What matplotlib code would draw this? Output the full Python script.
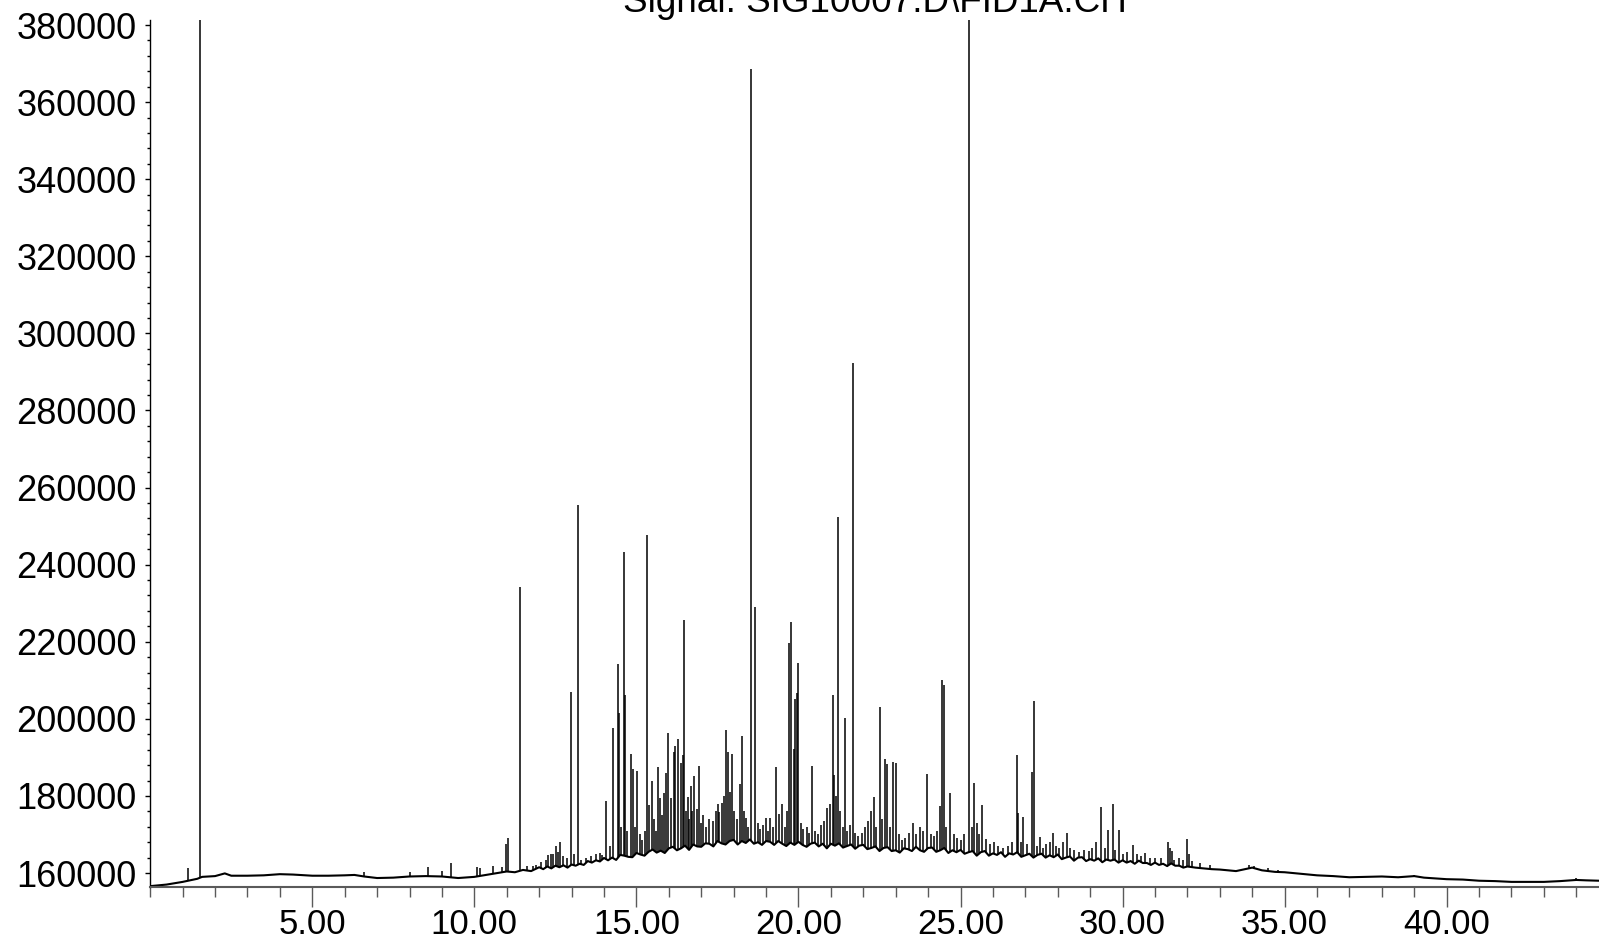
import numpy as np
import matplotlib
matplotlib.use("Agg")
import matplotlib.pyplot as plt
from matplotlib.ticker import MultipleLocator, FuncFormatter

plt.rcParams['font.family'] = ['Liberation Sans', 'DejaVu Sans']

title_text = "Signal: SIG10007.D\\FID1A.CH"

# Baseline (retention time in min, detector response)
baseline_rt = [0.0, 0.5, 1.0, 1.45, 1.6, 2.0, 2.3, 2.5, 3.0, 3.5, 4.0, 4.4, 5.0, 5.5,
               6.0, 6.3, 6.6, 7.0, 7.5, 8.0, 8.5, 9.0, 9.5, 10.0, 10.5, 11.0, 11.25, 11.5,
               11.75,
               12.0, 12.125, 12.25, 12.375, 12.5, 12.625, 12.75, 12.875,
               13.0, 13.125, 13.25, 13.375, 13.5, 13.625, 13.75, 13.875,
               14.0, 14.125, 14.25, 14.375, 14.5, 14.625, 14.75, 14.875,
               15.0, 15.125, 15.25, 15.375, 15.5, 15.625, 15.75, 15.875,
               16.0, 16.125, 16.25, 16.375, 16.5, 16.625, 16.75, 16.875,
               17.0, 17.125, 17.25, 17.375, 17.5, 17.625, 17.75, 17.875,
               18.0, 18.125, 18.25, 18.375, 18.5, 18.625, 18.75, 18.875,
               19.0, 19.125, 19.25, 19.375, 19.5, 19.625, 19.75, 19.875,
               20.0, 20.125, 20.25, 20.375, 20.5, 20.625, 20.75, 20.875,
               21.0, 21.125, 21.25, 21.375, 21.5, 21.625, 21.75, 21.875,
               22.0, 22.125, 22.25, 22.375, 22.5, 22.625, 22.75, 22.875,
               23.0, 23.125, 23.25, 23.375, 23.5, 23.625, 23.75, 23.875,
               24.0, 24.125, 24.25, 24.375, 24.5, 24.625, 24.75, 24.875,
               25.0, 25.125, 25.25, 25.375, 25.5, 25.625, 25.75, 25.875,
               26.0, 26.125, 26.25, 26.375, 26.5, 26.625, 26.75, 26.875,
               27.0, 27.125, 27.25, 27.375, 27.5, 27.625, 27.75, 27.875,
               28.0, 28.125, 28.25, 28.375, 28.5, 28.625, 28.75, 28.875,
               29.0, 29.125, 29.25, 29.375, 29.5, 29.625, 29.75, 29.875,
               30.0, 30.125, 30.25, 30.375, 30.5, 30.625, 30.75, 30.875,
               31.0, 31.125, 31.25, 31.375, 31.5, 31.625, 31.75, 31.875,
               32.0, 32.25, 32.5, 32.75, 33.0, 33.5, 34.0, 34.3,
               34.7, 35.0, 35.5, 36.0, 36.5, 37.0, 37.5, 38.0, 38.5, 39.0, 39.3, 40.0,
               40.5, 41.0, 41.5, 42.0, 42.5, 43.0, 43.5, 44.0, 44.3, 44.7]
baseline_val = [156600, 157000, 157700, 158500, 159000, 159200, 159900, 159300, 159300,
                159400, 159700, 159600, 159300, 159300, 159400, 159500, 159100, 158700,
                158800, 159100, 159200, 159100, 158700, 159000, 159700, 160400, 160200,
                160800, 160500,
                161500, 161000, 161700, 161200, 161900, 161500, 162000, 161400,
                162200, 161900, 162400, 162100, 163100, 162700, 163300, 163000,
                163900, 163300, 164000, 163400, 164700, 164500, 164200, 164100,
                165200, 164800, 164500, 165500, 166100, 165300, 165800, 165200,
                166400, 166800, 165900, 166400, 167100, 166000, 167400, 166900,
                166800, 167700, 167600, 166900, 168300, 167700, 167400, 168300,
                168600, 167400, 168300, 167800, 168700, 167600, 168000, 167300,
                168300, 168100, 167300, 168300, 167600, 167000, 167900, 167300,
                168100, 167300, 166800, 167600, 167900, 166900, 167600, 166400,
                167600, 167100, 167700, 166600, 167000, 167400, 166300, 167100,
                167300, 166200, 166500, 166900, 165700, 166500, 166700, 165700,
                165900, 165300, 166400, 166200, 165700, 166800, 165900, 165500,
                166500, 166600, 165500, 165900, 166500, 165200, 165900, 165400,
                166000, 165000, 165400, 165700, 164500, 165400, 165700, 164500,
                165100, 164700, 165400, 164200, 165100, 164800, 165400, 164200,
                164600, 165000, 164000, 164700, 165000, 164000, 164600, 164100,
                164800, 163600, 164000, 164300, 163200, 164000, 164100, 163100,
                163600, 163200, 163800, 162800, 163500, 163200, 163500, 162700,
                163300, 162700, 163100, 162400, 163200, 162600, 162600, 162100,
                162700, 162100, 162400, 161800, 162500, 161900, 161900, 161400,
                161700, 161400, 161200, 161000, 160900, 160500, 161400, 160700,
                160300, 160200, 159800, 159400, 159200, 158900, 159000, 159100,
                158900, 159200, 158800, 158400, 158300, 158000, 157900, 157700,
                157700, 157700, 157900, 158200, 158100, 158000]

# Peaks (retention time, apex response)
peak_rt = [1.16, 1.53, 6.58, 8.01, 8.56, 9.01, 9.28, 10.07, 10.17, 10.58, 10.84, 10.97,
           11.03, 11.41, 11.62, 11.8, 11.9, 12.05, 12.2, 12.28, 12.35, 12.43, 12.52, 12.58,
           12.64, 12.75, 12.85, 12.97, 13.06, 13.19, 13.3, 13.45, 13.6, 13.75, 13.88,
           13.95, 14.06, 14.18, 14.29, 14.42, 14.45, 14.52, 14.62, 14.66, 14.72, 14.83,
           14.89, 14.95, 15.02, 15.1, 15.18, 15.25, 15.32, 15.39, 15.48, 15.55, 15.6,
           15.66, 15.73, 15.79, 15.84, 15.91, 15.98, 16.07, 16.15, 16.2, 16.28, 16.37,
           16.43, 16.48, 16.53, 16.58, 16.63, 16.68, 16.73, 16.78, 16.86, 16.93, 17.0,
           17.07, 17.15, 17.25, 17.35, 17.45, 17.52, 17.56, 17.63, 17.7, 17.76, 17.84,
           17.9, 17.94, 18.02, 18.1, 18.2, 18.26, 18.32, 18.37, 18.45, 18.54, 18.66,
           18.74, 18.82, 18.9, 19.0, 19.07, 19.12, 19.2, 19.31, 19.41, 19.5, 19.58, 19.65,
           19.72, 19.77, 19.85, 19.9, 19.95, 20.0, 20.07, 20.15, 20.25, 20.33, 20.41,
           20.5, 20.6, 20.7, 20.8, 20.89, 20.98, 21.06, 21.1, 21.16, 21.22, 21.28, 21.36,
           21.43, 21.5, 21.58, 21.67, 21.75, 21.85, 21.95, 22.05, 22.15, 22.25, 22.33,
           22.4, 22.51, 22.58, 22.67, 22.74, 22.82, 22.93, 23.0, 23.1, 23.2, 23.3, 23.4,
           23.54, 23.62, 23.75, 23.85, 23.98, 24.08, 24.18, 24.28, 24.37, 24.42, 24.49,
           24.56, 24.68, 24.8, 24.9, 25.0, 25.1, 25.27, 25.35, 25.43, 25.5, 25.58, 25.65,
           25.79, 25.9, 26.03, 26.15, 26.3, 26.45, 26.6, 26.73, 26.78, 26.86, 26.94,
           27.05, 27.2, 27.28, 27.36, 27.45, 27.55, 27.65, 27.75, 27.84, 27.95, 28.05,
           28.15, 28.28, 28.38, 28.5, 28.65, 28.8, 28.95, 29.05, 29.18, 29.33, 29.45,
           29.56, 29.7, 29.78, 29.89, 30.0, 30.15, 30.33, 30.45, 30.58, 30.69, 30.85,
           31.0, 31.2, 31.4, 31.45, 31.51, 31.6, 31.75, 31.85, 31.98, 32.05, 32.15, 32.4,
           32.7, 33.9, 34.05, 34.5, 34.8, 39.0, 44.0]
peak_top = [161400, 400000, 160300, 160300, 161500, 160600, 162500, 161500, 161200, 161900,
            161500, 167400, 169000, 234300, 161800, 161900, 162000, 162800, 163500, 164700,
            164900, 165000, 167000, 165500, 168000, 164500, 164000, 206900, 165000, 255400,
            163500, 164000, 164500, 165000, 165300, 164800, 178800, 167000, 197500, 214100,
            201500, 172000, 243300, 206200, 171000, 190800, 186900, 172000, 186500, 170000,
            168500, 171000, 247800, 177600, 183900, 174000, 171000, 187600, 179500, 175000,
            180700, 186000, 196200, 179400, 191500, 192900, 194700, 188500, 190600, 225600,
            176000, 179600, 174000, 182600, 176000, 185200, 176500, 187800, 173000, 175000,
            172000, 174000, 173500, 176000, 178000, 175700, 178200, 180000, 197100, 191500,
            181000, 190900, 176000, 174000, 183100, 195500, 176000, 174200, 172000, 368700,
            228900, 173000, 171500, 172500, 174200, 171000, 174200, 172000, 187400, 175300,
            177900, 172000, 176000, 219800, 225200, 192300, 205100, 206600, 214400, 173000,
            171500, 172000, 170500, 187800, 171000, 170000, 172500, 173500, 176800, 178000,
            206200, 185400, 180000, 252400, 176000, 172000, 200100, 171000, 172500, 292400,
            170500, 169500, 170500, 172000, 173500, 176000, 179800, 172000, 203000, 174000,
            189500, 188400, 172000, 188900, 188600, 170000, 168500, 169000, 170500, 172900,
            170000, 172000, 171000, 185600, 170000, 169500, 171000, 177400, 210200, 208900,
            172000, 180700, 170000, 169000, 168500, 170000, 400000, 172000, 183400, 173000,
            170000, 177600, 168700, 167500, 168100, 167000, 166500, 167000, 168000, 190600,
            175600, 168000, 174600, 167500, 186300, 204600, 167000, 169400, 166500, 167500,
            168000, 170500, 167000, 166500, 168000, 170500, 166500, 166000, 165500, 166000,
            165800, 166500, 168100, 177000, 166500, 171200, 177900, 166000, 171200, 165000,
            165500, 167300, 165000, 164500, 165300, 164000, 163800, 164000, 168000, 166500,
            165800, 163500, 163800, 163500, 168800, 165000, 163000, 162500, 162200, 162100,
            161800, 161200, 160800, 159400, 158600]

x_ticks = [5, 10, 15, 20, 25, 30, 35, 40]
y_ticks = [160000, 180000, 200000, 220000, 240000, 260000, 280000, 300000, 320000,
           340000, 360000, 380000]

fig = plt.figure(figsize=(15.99, 9.40), dpi=100)
ax = fig.add_axes([150.25 / 1599, 53.3 / 940, (1599 - 150.25) / 1599, (886.7 - 20) / 940])

ax.plot(baseline_rt, baseline_val, color='black', lw=1.5, solid_joinstyle='round')
foot = np.interp(peak_rt, baseline_rt, baseline_val)
ax.vlines(peak_rt, foot, peak_top, color='black', lw=1.1)

ax.set_xlim(0, 44.7)
ax.set_ylim(156450, 381300)

for s in ['top', 'right']:
    ax.spines[s].set_visible(False)
ax.spines['left'].set_color('black')
ax.spines['left'].set_linewidth(1.0)
ax.spines['bottom'].set_color('#5a5a5a')
ax.spines['bottom'].set_linewidth(1.5)

ax.set_xticks(x_ticks)
ax.xaxis.set_minor_locator(MultipleLocator(1))
ax.xaxis.set_major_formatter(FuncFormatter(lambda v, p: f"{v:.2f}"))
ax.set_yticks(y_ticks)
ax.yaxis.set_minor_locator(MultipleLocator(4000))
ax.yaxis.set_major_formatter(FuncFormatter(lambda v, p: f"{int(v)}"))

ax.tick_params(axis='x', which='major', direction='out', length=14.4, width=1.0,
               color='#5a5a5a', labelsize=25, pad=1.0)
ax.tick_params(axis='x', which='minor', direction='out', length=7.2, width=1.0,
               color='#5a5a5a')
ax.tick_params(axis='y', which='major', direction='out', length=3.6, width=1.0,
               color='black', labelsize=26, pad=6.3)
ax.tick_params(axis='y', which='minor', direction='out', length=2.2, width=1.0,
               color='black')

ax.set_title(title_text, fontsize=26.6, pad=5.4)

fig.savefig('out.png', dpi=100)
